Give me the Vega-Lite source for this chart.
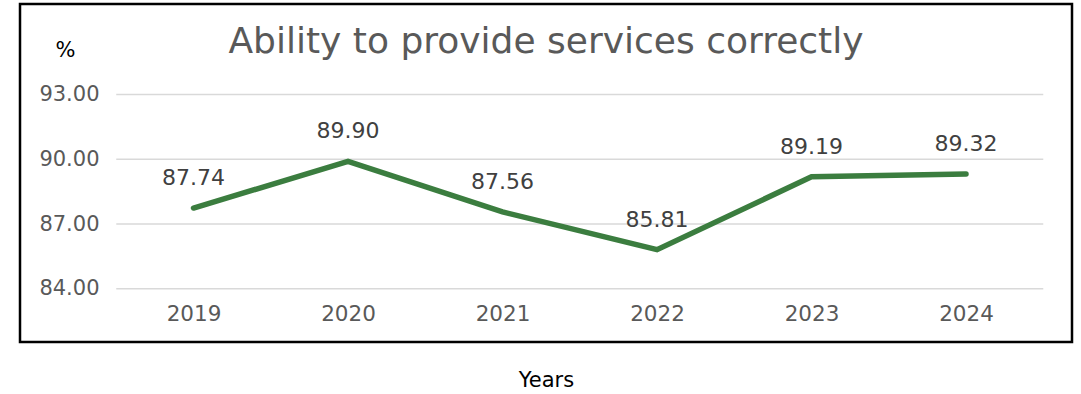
{
  "$schema": "https://vega.github.io/schema/vega-lite/v6.json",
  "autosize": "none",
  "width": 1052,
  "height": 338,
  "padding": {"left": 20, "top": 4, "right": 9, "bottom": 52},
  "background": "white",
  "config": {
    "view": {"stroke": "#000000", "strokeWidth": 2.5},
    "font": "DejaVu Sans"
  },
  "title": {
    "text": "Ability to provide services correctly",
    "fontSize": 36,
    "fontWeight": "normal",
    "color": "#595959",
    "font": "DejaVu Sans",
    "anchor": "middle",
    "baseline": "alphabetic",
    "offset": -85
  },
  "datasets": {
    "scores": [
      {"year": 2019, "value": 87.74},
      {"year": 2020, "value": 89.90},
      {"year": 2021, "value": 87.56},
      {"year": 2022, "value": 85.81},
      {"year": 2023, "value": 89.19},
      {"year": 2024, "value": 89.32}
    ],
    "grid": [{"g": 84}, {"g": 87}, {"g": 90}, {"g": 93}]
  },
  "layer": [
    {
      "data": {"name": "grid"},
      "mark": {"type": "rule", "stroke": "#d9d9d9", "strokeWidth": 1.5},
      "encoding": {
        "y": {
          "field": "g",
          "type": "quantitative",
          "scale": {"domain": [81.53, 97.2], "nice": false, "zero": false},
          "axis": {
            "values": [84, 87, 90, 93],
            "format": ".2f",
            "grid": false,
            "domain": false,
            "ticks": false,
            "offset": -85,
            "labelPadding": 6,
            "labelFontSize": 21,
            "labelColor": "#595959",
            "labelFont": "DejaVu Sans",
            "title": "%",
            "titleAngle": 0,
            "titleFontSize": 21,
            "titleFontWeight": "normal",
            "titleColor": "#000000",
            "titleFont": "DejaVu Sans",
            "titleAlign": "center",
            "titleBaseline": "middle",
            "titleX": -40,
            "titleY": 46
          }
        },
        "x": {
          "datum": 2018.5,
          "type": "quantitative",
          "scale": {"domain": [2017.877, 2024.686], "nice": false, "zero": false},
          "axis": {
            "values": [2019, 2020, 2021, 2022, 2023, 2024],
            "format": "d",
            "grid": false,
            "domain": false,
            "ticks": false,
            "offset": -42,
            "labelPadding": 3,
            "labelFontSize": 21.5,
            "labelColor": "#595959",
            "labelFont": "DejaVu Sans",
            "title": "Years",
            "titleFontSize": 21,
            "titleFontWeight": "normal",
            "titleColor": "#000000",
            "titleFont": "DejaVu Sans",
            "titleBaseline": "middle",
            "titleY": 80
          }
        },
        "x2": {"datum": 2024.5}
      }
    },
    {
      "data": {"name": "scores"},
      "mark": {"type": "line", "color": "#3b7d3f", "strokeWidth": 5.5, "strokeCap": "round", "strokeJoin": "miter"},
      "encoding": {
        "x": {"field": "year", "type": "quantitative"},
        "y": {"field": "value", "type": "quantitative"}
      }
    },
    {
      "data": {"name": "scores"},
      "mark": {"type": "text", "dy": -30, "fontSize": 22, "color": "#404040", "font": "DejaVu Sans", "baseline": "middle"},
      "encoding": {
        "x": {"field": "year", "type": "quantitative"},
        "y": {"field": "value", "type": "quantitative"},
        "text": {"field": "value", "type": "quantitative", "format": ".2f"}
      }
    }
  ]
}
